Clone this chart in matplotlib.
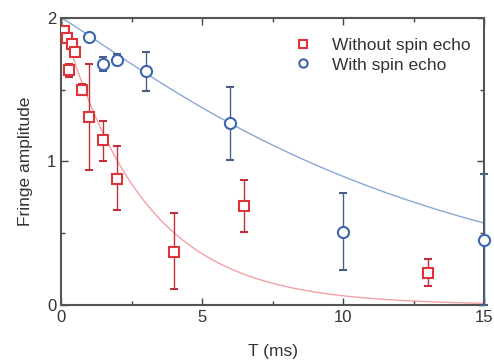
import numpy as np
import matplotlib
matplotlib.use("Agg")
import matplotlib.pyplot as plt
from matplotlib.ticker import MultipleLocator
from matplotlib.lines import Line2D

plt.rcParams['font.family'] = ['Liberation Sans', 'DejaVu Sans']

# Without spin echo (red squares)
t_red = [0.1, 0.2, 0.4, 0.5, 0.3, 0.75, 1.0, 1.5, 2.0, 4.0, 6.5, 13.0]
a_red = [1.91, 1.86, 1.82, 1.76, 1.64, 1.50, 1.31, 1.15, 0.88, 0.37, 0.69, 0.22]
err_red_lo = [0.02, 0.02, 0.02, 0.02, 0.05, 0.04, 0.37, 0.15, 0.22, 0.26, 0.18, 0.09]
err_red_hi = [0.02, 0.02, 0.02, 0.02, 0.04, 0.04, 0.37, 0.13, 0.23, 0.27, 0.18, 0.10]

# With spin echo (blue circles)
t_blue = [1.0, 1.5, 2.0, 3.0, 6.0, 10.0, 15.0]
a_blue = [1.87, 1.68, 1.71, 1.63, 1.27, 0.51, 0.45]
err_blue_lo = [0.02, 0.05, 0.04, 0.14, 0.26, 0.27, 0.45]
err_blue_hi = [0.02, 0.05, 0.04, 0.13, 0.25, 0.27, 0.46]

# fit parameters
amp0 = 2.0
tau_red, n_red = 2.9, 1.0
tau_blue, n_blue = 12.2, 1.1

red = '#e0343c'
red_light = '#f2a0a6'
blue = '#3d64b0'
blue_light = '#8aa6d6'
red_err = '#c0303c'
blue_err = '#4a5f85'

fig = plt.figure(figsize=(4.94, 3.6), dpi=100)
ax = fig.add_axes([0.1235, 0.153, 0.857, 0.797])

tt = np.linspace(0, 15, 400)
ax.plot(tt, amp0 * np.exp(-(tt / tau_red) ** n_red), color=red_light, lw=1.0, zorder=1)
ax.plot(tt, amp0 * np.exp(-(tt / tau_blue) ** n_blue), color=blue_light, lw=1.0, zorder=1)

ax.errorbar(t_red, a_red, yerr=[err_red_lo, err_red_hi], fmt='s', ms=7,
            mfc='white', mec=red, mew=1.5, ecolor=red_err, elinewidth=1.0,
            capsize=3, capthick=1.0, label='Without spin echo', zorder=3)
eb = ax.errorbar(t_blue, a_blue, yerr=[err_blue_lo, err_blue_hi], fmt='o', ms=8,
                 mfc='white', mec=blue, mew=1.5, ecolor=blue_err, elinewidth=1.0,
                 capsize=3, capthick=1.0, label='With spin echo', zorder=3)
eb[0].set_clip_on(False)
for c in eb[1]:
    c.set_clip_on(False)
for c in eb[2]:
    c.set_clip_on(False)

ax.set_xlim(0, 15)
ax.set_ylim(0, 2)
ax.xaxis.set_major_locator(MultipleLocator(5))
ax.xaxis.set_minor_locator(MultipleLocator(2.5))
ax.yaxis.set_major_locator(MultipleLocator(1))
ax.yaxis.set_minor_locator(MultipleLocator(0.5))
ax.tick_params(which='both', direction='in', top=True, right=True,
               colors='#444444', labelcolor='#333333', labelsize=12)
ax.tick_params(which='major', length=5, width=1.0)
ax.tick_params(which='minor', length=3, width=1.0)
for s in ax.spines.values():
    s.set_color('#555555')
    s.set_linewidth(1.5)

ax.set_xlabel('T (ms)', fontsize=12.5, color='#333333', labelpad=14)
ax.set_ylabel('Fringe amplitude', fontsize=12.5, color='#333333', labelpad=10)

labels = ['Without spin echo', 'With spin echo']
h1 = Line2D([], [], marker='s', ls='none', ms=6, mfc='white', mec=red, mew=1.5)
h2 = Line2D([], [], marker='o', ls='none', ms=6, mfc='white', mec=blue, mew=1.5)
leg = ax.legend([h1, h2], labels, loc='upper right', frameon=False, fontsize=12.5,
                handletextpad=0.7, labelspacing=0.25, borderaxespad=0.0,
                bbox_to_anchor=(0.985, 0.955))
for t in leg.get_texts():
    t.set_color('#333333')

fig.savefig('out.png', dpi=100)
